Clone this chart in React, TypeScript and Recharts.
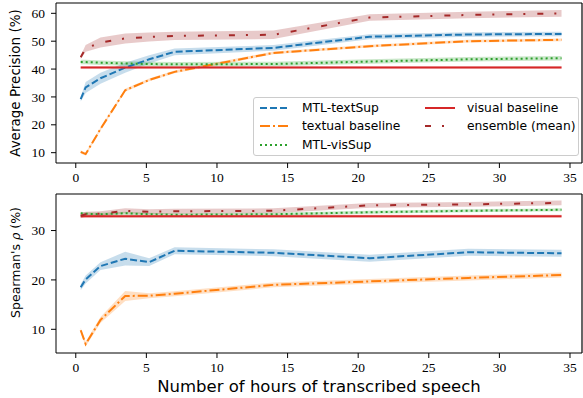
import { ComposedChart, Line, Area, XAxis, YAxis, Label, ReferenceLine } from 'recharts'

// hours of transcribed speech used for training
const hours = [0.35, 0.7, 1.75, 3.5, 5.2, 7, 14, 20.8, 27.8, 34.4]

// average precision (%), mean and half band width
const apTextSup = [29.2, 33.4, 36.7, 40.5, 43.5, 46.2, 47.6, 51.6, 52.4, 52.6]
const apTextSupErr = [0.8, 2.0, 2.0, 1.8, 1.5, 1.2, 1.0, 0.9, 0.8, 0.8]
const apTextual = [10.3, 9.5, 18.5, 32.4, 36.1, 39.0, 45.8, 48.2, 50.0, 50.5]
const apTextualErr = [0.6, 0.5, 0.5, 0.5, 0.5, 0.5, 0.5, 0.5, 0.5, 0.5]
const apVisSup = [42.5, 42.5, 42.3, 42.0, 41.8, 41.7, 41.8, 42.7, 43.5, 43.9]
const apVisSupErr = [0.8, 0.8, 0.8, 0.8, 0.8, 0.8, 0.8, 0.8, 0.8, 0.8]
const apVisual = [40.6, 40.6, 40.6, 40.6, 40.6, 40.6, 40.6, 40.6, 40.6, 40.6]
const apVisualErr = [0.4, 0.4, 0.4, 0.4, 0.4, 0.4, 0.4, 0.4, 0.4, 0.4]
const apEnsemble = [44.2, 47.4, 49.5, 51.0, 51.5, 51.9, 52.3, 58.5, 59.4, 60.0]
const apEnsembleErr = [0.6, 1.2, 1.8, 1.8, 1.6, 1.5, 1.5, 1.2, 1.2, 1.2]

// spearman's rho (%), mean and half band width
const rhoTextSup = [18.5, 20.1, 22.8, 24.3, 23.6, 25.9, 25.5, 24.4, 25.6, 25.4]
const rhoTextSupErr = [0.6, 0.8, 0.8, 1.4, 0.8, 0.7, 0.7, 0.7, 0.7, 0.7]
const rhoTextual = [9.8, 7.0, 11.9, 16.75, 16.8, 17.2, 19.0, 19.7, 20.4, 21.0]
const rhoTextualErr = [0.5, 0.5, 0.6, 1.0, 0.5, 0.5, 0.5, 0.5, 0.5, 0.5]
const rhoVisSup = [33.5, 33.4, 33.3, 33.5, 33.3, 33.2, 33.3, 33.7, 34.0, 34.2]
const rhoVisSupErr = [0.3, 0.3, 0.3, 0.3, 0.3, 0.3, 0.3, 0.3, 0.3, 0.3]
const rhoVisual = [32.9, 32.9, 32.9, 32.9, 32.9, 32.9, 32.9, 32.9, 32.9, 32.9]
const rhoVisualErr = [0.3, 0.3, 0.3, 0.3, 0.3, 0.3, 0.3, 0.3, 0.3, 0.3]
const rhoEnsemble = [33.0, 33.3, 33.4, 34.0, 33.8, 33.9, 34.0, 35.1, 35.3, 35.6]
const rhoEnsembleErr = [0.5, 0.5, 0.5, 0.5, 0.5, 0.5, 0.5, 0.5, 0.5, 0.5]

const xTicks = [0, 5, 10, 15, 20, 25, 30, 35]
const xDomain = [-1.4, 35.85]
const apTicks = [10, 20, 30, 40, 50, 60]
const rhoTicks = [10, 20, 30]

const SERIES = [
  { key: 'textSup', name: 'MTL-textSup', color: '#1f77b4', dash: '7 3' },
  { key: 'textual', name: 'textual baseline', color: '#ff7f0e', dash: '10 3 2 3' },
  { key: 'visSup', name: 'MTL-visSup', color: '#2ca02c', dash: '2 3' },
  { key: 'visual', name: 'visual baseline', color: '#d62728', dash: undefined },
  { key: 'ensemble', name: 'ensemble (mean)', color: '#a52a2a', dash: '6 11 2 12' },
]

function buildRows(cols: Record<string, [number[], number[]]>) {
  return hours.map((h, i) => {
    const row: Record<string, any> = { h }
    for (const k of Object.keys(cols)) {
      const [m, e] = cols[k]
      row[k] = m[i]
      row[k + 'Band'] = [m[i] - e[i], m[i] + e[i]]
    }
    return row
  })
}

const apRows = buildRows({
  textSup: [apTextSup, apTextSupErr],
  textual: [apTextual, apTextualErr],
  visSup: [apVisSup, apVisSupErr],
  visual: [apVisual, apVisualErr],
  ensemble: [apEnsemble, apEnsembleErr],
})

const rhoRows = buildRows({
  textSup: [rhoTextSup, rhoTextSupErr],
  textual: [rhoTextual, rhoTextualErr],
  visSup: [rhoVisSup, rhoVisSupErr],
  visual: [rhoVisual, rhoVisualErr],
  ensemble: [rhoEnsemble, rhoEnsembleErr],
})

const serif = '"Liberation Serif", serif'
const sans = '"DejaVu Sans", sans-serif'

const XTick = ({ x, y, payload }: any) => (
  <text x={x} y={y} dy="0.75em" textAnchor="middle" fontFamily={serif} fontSize={13.5} fill="#000">
    {payload.value}
  </text>
)

const YTick = ({ x, y, payload }: any) => (
  <text x={x} y={y} dy="0.34em" textAnchor="end" fontFamily={serif} fontSize={13.5} fill="#000">
    {payload.value}
  </text>
)

function seriesMarks() {
  return SERIES.flatMap(s => [
    <Area
      key={s.key + 'Band'}
      type="linear"
      dataKey={s.key + 'Band'}
      stroke="none"
      fill={s.color}
      fillOpacity={0.25}
      isAnimationActive={false}
      activeDot={false}
    />,
    <Line
      key={s.key}
      type="linear"
      dataKey={s.key}
      stroke={s.color}
      strokeWidth={2}
      strokeDasharray={s.dash}
      dot={false}
      activeDot={false}
      isAnimationActive={false}
    />,
  ])
}

function Panel({ rows, height, yDomain, yTicks, xLabel, yLabel, yLabelShift, yLabelSize }: any) {
  return (
    <ComposedChart
      width={583}
      height={height}
      data={rows}
      margin={{ top: 3, right: 1, bottom: 0, left: 0 }}
    >
      <XAxis
        dataKey="h"
        type="number"
        domain={xDomain}
        ticks={xTicks}
        allowDataOverflow
        height={xLabel ? 45 : 22}
        tickSize={5}
        tickMargin={4}
        tick={<XTick />}
        stroke="#000"
        tickLine={{ stroke: '#000' }}
      >
        {xLabel && (
          <Label
            content={({ viewBox }: any) => (
              <text
                x={viewBox.x + viewBox.width / 2}
                y={viewBox.y + 39}
                textAnchor="middle"
                fontFamily={sans}
                fontSize={16.5}
                fill="#000"
              >
                {xLabel}
              </text>
            )}
          />
        )}
      </XAxis>
      <YAxis
        type="number"
        domain={yDomain}
        ticks={yTicks}
        allowDataOverflow
        width={56}
        tickSize={5}
        tickMargin={6}
        tick={<YTick />}
        stroke="#000"
        tickLine={{ stroke: '#000' }}
      >
        <Label
          content={({ viewBox }: any) => {
            const cx = 15
            const cy = viewBox.y + viewBox.height / 2 + yLabelShift
            return (
              <text
                x={cx}
                y={cy}
                transform={`rotate(-90 ${cx} ${cy})`}
                textAnchor="middle"
                dominantBaseline="central"
                fontFamily={sans}
                fontSize={yLabelSize}
                fill="#000"
              >
                {yLabel}
              </text>
            )
          }}
        />
      </YAxis>
      {seriesMarks()}
      {/* top and right spines of the frame */}
      <ReferenceLine y={yDomain[1]} stroke="#000" strokeWidth={1.2} ifOverflow="visible" />
      <ReferenceLine x={xDomain[1]} stroke="#000" strokeWidth={1.2} ifOverflow="visible" />
    </ComposedChart>
  )
}

function LegendBox() {
  const col1 = [SERIES[0], SERIES[1], SERIES[2]]
  const col2 = [SERIES[3], SERIES[4]]
  const item = (s: any, i: number, col: number) => (
    <div
      key={s.key}
      style={{
        position: 'absolute',
        left: col === 0 ? 5 : 170,
        top: 1 + i * 18.3,
        height: 18,
        display: 'flex',
        alignItems: 'center',
      }}
    >
      <svg width={32} height={18}>
        <line x1={1} y1={9} x2={31} y2={9} stroke={s.color} strokeWidth={2} strokeDasharray={s.dash} />
      </svg>
      <span style={{ marginLeft: 11, fontFamily: sans, fontSize: 12.3, whiteSpace: 'nowrap' }}>
        {s.name}
      </span>
    </div>
  )
  return (
    <div
      style={{
        position: 'absolute',
        left: 253,
        top: 97,
        width: 324,
        height: 57,
        border: '1px solid #cccccc',
        borderRadius: 3,
        background: 'rgba(255,255,255,0.8)',
      }}
    >
      {col1.map((s, i) => item(s, i, 0))}
      {col2.map((s, i) => item(s, i, 1))}
    </div>
  )
}

export default function App() {
  return (
    <div style={{ position: 'absolute', left: 0, top: 0, width: 583, height: 398, background: '#fff' }}>
      <div style={{ position: 'absolute', left: 0, top: 0 }}>
        <Panel
          rows={apRows}
          height={185}
          yDomain={[6.3, 63.7]}
          yTicks={apTicks}
          yLabel="Average Precision (%)"
          yLabelShift={0}
          yLabelSize={13.5}
        />
      </div>
      <div style={{ position: 'absolute', left: 0, top: 191 }}>
        <Panel
          rows={rhoRows}
          height={207}
          yDomain={[5.2, 37.4]}
          yTicks={rhoTicks}
          xLabel="Number of hours of transcribed speech"
          yLabel={
            <>
              Spearman's{' '}
              <tspan fontFamily='"DejaVu Serif", serif' fontStyle="italic">ρ</tspan> (%)
            </>
          }
          yLabelShift={-11}
          yLabelSize={12.5}
        />
      </div>
      <LegendBox />
    </div>
  )
}
